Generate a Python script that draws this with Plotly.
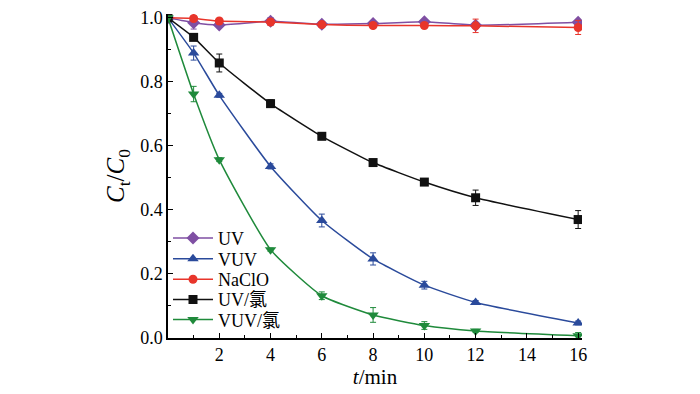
import plotly.graph_objects as go

t = [0, 1, 2, 4, 6, 8, 10, 12, 16]

uv = [1.0, 0.985, 0.978, 0.989, 0.980, 0.982, 0.988, 0.977, 0.986]
uv_err = [0, 0.02, 0.005, 0.012, 0.006, 0.005, 0.006, 0.006, 0.008]

vuv = [1.0, 0.890, 0.758, 0.536, 0.367, 0.247, 0.165, 0.111, 0.047]
vuv_err = [0, 0.022, 0.006, 0.008, 0.020, 0.019, 0.012, 0.006, 0.006]

naclo = [1.0, 0.998, 0.990, 0.987, 0.979, 0.976, 0.976, 0.975, 0.970]
naclo_err = [0, 0.006, 0.005, 0.005, 0.008, 0.005, 0.005, 0.021, 0.022]

uv_cl = [1.0, 0.939, 0.859, 0.732, 0.630, 0.548, 0.487, 0.438, 0.370]
uv_cl_err = [0, 0.006, 0.028, 0.012, 0.005, 0.005, 0.010, 0.024, 0.028]

vuv_cl = [1.0, 0.762, 0.557, 0.276, 0.132, 0.072, 0.039, 0.022, 0.007]
vuv_cl_err = [0, 0.024, 0.006, 0.005, 0.012, 0.023, 0.012, 0.005, 0.010]

series = [
    ("UV", uv, uv_err, "#7F4FA3", "diamond", 10),
    ("VUV", vuv, vuv_err, "#2A4A9B", "triangle-up", 10),
    ("NaClO", naclo, naclo_err, "#E8352B", "circle", 9),
    ("UV/氯", uv_cl, uv_cl_err, "#111111", "square", 9),
    ("VUV/氯", vuv_cl, vuv_cl_err, "#1F8A3B", "triangle-down", 10),
]

legend_rows_px = [236.5, 257.5, 278.5, 299, 319.5]

font_family = "Liberation Serif, Noto Sans CJK SC, serif"
PLOT_TOP, PLOT_BOTTOM = 8, 338

fig = go.Figure()
layout_legends = {}
for i, (name, y, err, color, sym, size) in enumerate(series):
    lg = "legend" if i == 0 else f"legend{i + 1}"
    fig.add_trace(go.Scatter(
        x=t, y=y, name=name, mode="lines+markers", legend=lg,
        line=dict(color=color, width=1.5, shape="spline", smoothing=0.5),
        marker=dict(symbol=sym, size=size, color=color),
        error_y=dict(type="data", array=err, visible=True, color=color,
                     thickness=1, width=3),
    ))
    yc = (PLOT_BOTTOM - legend_rows_px[i]) / (PLOT_BOTTOM - PLOT_TOP)
    layout_legends[lg] = dict(
        x=0.0, y=yc, xanchor="left", yanchor="middle",
        bgcolor="rgba(0,0,0,0)", font=dict(size=18, family=font_family),
        itemwidth=40, borderwidth=0,
    )

fig.update_layout(
    width=700, height=394,
    margin=dict(l=168, r=118, t=PLOT_TOP, b=394 - PLOT_BOTTOM),
    paper_bgcolor="white", plot_bgcolor="white",
    font=dict(family=font_family, size=18, color="black"),
    showlegend=True,
    xaxis=dict(range=[0, 16.15], tickvals=[2, 4, 6, 8, 10, 12, 14, 16],
               ticks="inside", ticklen=5, tickwidth=1.2, tickcolor="black",
               showline=True, linecolor="black", linewidth=1.5,
               showgrid=False, zeroline=False,
               minor=dict(dtick=1, ticks="inside", ticklen=3, tickcolor="black"),
               title=dict(text="<i>t</i>/min", font=dict(size=21), standoff=2)),
    yaxis=dict(range=[0, 1.012], tickvals=[0, 0.2, 0.4, 0.6, 0.8, 1.0],
               tickformat=".1f",
               ticks="inside", ticklen=5, tickwidth=1.2, tickcolor="black",
               showline=True, linecolor="black", linewidth=1.5,
               showgrid=False, zeroline=False,
               minor=dict(dtick=0.1, ticks="inside", ticklen=3, tickcolor="black"),
               title=dict(text="<i>C</i><sub>t</sub>/<i>C</i><sub>0</sub>",
                          font=dict(size=25), standoff=8)),
    **layout_legends,
)

fig.write_html("out.html", config={"displayModeBar": False},
               post_script="document.body.style.margin='0';")
